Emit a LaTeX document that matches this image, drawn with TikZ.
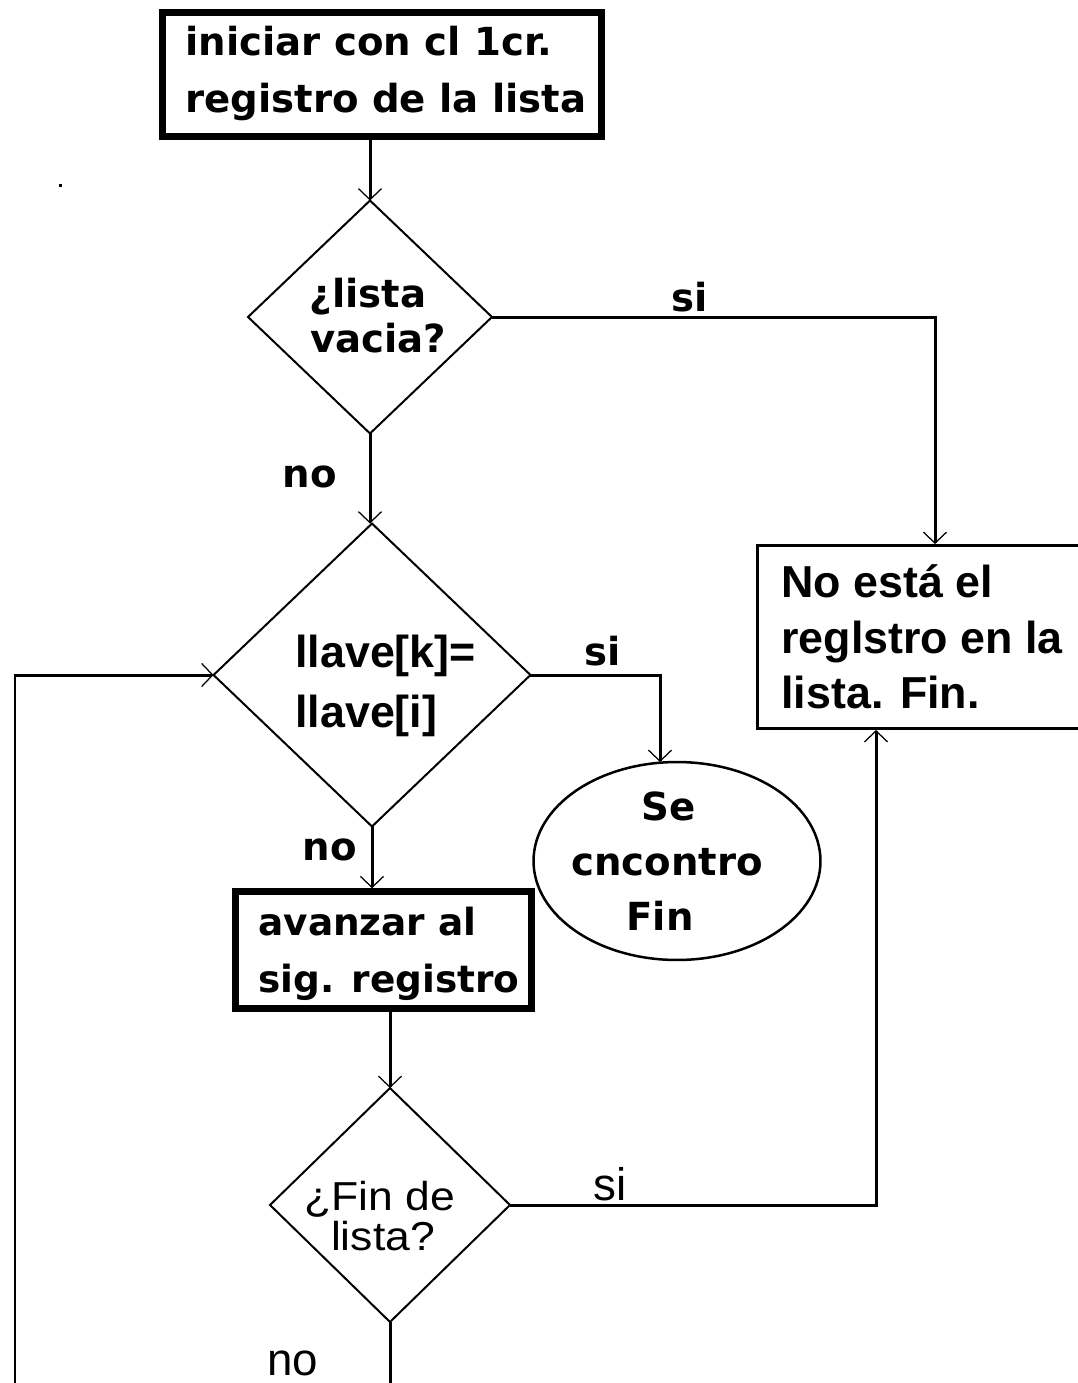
\documentclass[tikz,border=0pt]{standalone}
\usepackage{fontspec}
\usetikzlibrary{shapes.geometric,arrows.meta}
\newfontfamily\dvfont{DejaVu Sans}
\newfontfamily\lbfont{Liberation Sans}
\newfontfamily\lbwide{Liberation Sans}[FakeStretch=1.1]
\tikzset{
  pxbold/.style={font=\dvfont\bfseries\fontsize{22pt}{26pt}\selectfont, inner sep=0pt},
  pxboldsm/.style={font=\dvfont\bfseries\fontsize{21.3pt}{26pt}\selectfont, inner sep=0pt},
  tallbold/.style={font=\lbfont\bfseries\fontsize{25.5pt}{30pt}\selectfont, inner sep=0pt},
  tallreg/.style={font=\lbfont\fontsize{26pt}{30pt}\selectfont, inner sep=0pt},
  condreg/.style={font=\lbwide\fontsize{23pt}{26pt}\selectfont, inner sep=0pt},
  decision/.style={shape=diamond, draw, line width=0.04cm, inner sep=0pt, outer sep=0pt},
  thickbox/.style={rectangle, draw, line width=0.13cm, inner sep=0pt},
  thinbox/.style={rectangle, draw, line width=0.06cm, inner sep=0pt},
  endoval/.style={ellipse, draw, line width=0.05cm, inner sep=0pt, outer sep=0pt},
  conn/.style={line width=0.06cm},
  arr/.style={conn, -{Straight Barb[length=0.22cm,width=0.46cm,line width=0.025cm]}},
}
\begin{document}
\begin{tikzpicture}[x=0.02cm, y=-0.02cm]
\useasboundingbox (0,0) rectangle (1078,1383);

% shapes
\node[thickbox, minimum width=8.78cm, minimum height=2.48cm] (start) at (382,74.5) {};
\node[decision, minimum width=4.88cm, minimum height=4.66cm] (d1) at (370,317) {};
\node[decision, minimum width=6.34cm, minimum height=6.06cm] (d2) at (372,675) {};
\node[endoval, minimum width=5.74cm, minimum height=3.96cm] (ell) at (677,861) {};
\node[thickbox, minimum width=5.92cm, minimum height=2.34cm] (avz) at (383.5,950) {};
\node[decision, minimum width=4.80cm, minimum height=4.68cm] (d3) at (390,1205) {};
\node[thinbox, minimum width=6.85cm, minimum height=3.66cm] (nob) at (928.75,637) {};

% texts
\node[pxbold, anchor=base west] (t1a) at (185,55) {iniciar con cl 1cr.};
\node[pxbold, anchor=base west] (t1b) at (185,112) {registro de la lista};
\node[pxbold, anchor=base] (t2a) at (368,307) {¿lista};
\node[pxbold, anchor=base] (t2b) at (378,352) {vacia?};
\node[tallbold, anchor=base west] (t3a) at (295,667) {llave[k]=};
\node[tallbold, anchor=base west] (t3b) at (295,727) {llave[i]};
\node[pxbold, anchor=base] (t4a) at (669,820) {Se};
\node[pxbold, anchor=base] (t4b) at (667,875) {cncontro};
\node[pxbold, anchor=base] (t4c) at (660,930) {Fin};
\node[pxboldsm, anchor=base west] (t5a) at (258,935) {avanzar al};
\node[pxboldsm, anchor=base west] (t5b) at (258,992) {sig. registro};
\node[condreg, anchor=base] (t6a) at (380,1210) {¿Fin de};
\node[condreg, anchor=base] (t6b) at (383,1250) {lista?};
\node[tallbold, anchor=base west] (t7a) at (781,597) {No está el};
\node[tallbold, anchor=base west] (t7b) at (781,653) {reglstro en la};
\node[tallbold, anchor=base west] (t7c) at (781,708) {lista. Fin.};

% branch labels
\node[pxbold, anchor=base] (lsi1) at (690,311) {si};
\node[pxbold, anchor=base] (lno1) at (310,487) {no};
\node[pxbold, anchor=base] (lsi2) at (603,665) {si};
\node[pxbold, anchor=base] (lno2) at (330,860) {no};
\node[tallreg, anchor=base] (lsi3) at (610,1200) {si};
\node[tallreg, anchor=base] (lno3) at (293,1375) {no};

% helper coordinates
\coordinate (xyes1) at (935,0);
\coordinate (xyes2) at (660,0);
\coordinate (xyes3) at (876,0);
\coordinate (loopend) at (15,1400);
\coordinate (d3end) at (390,1400);

% connectors
\draw[arr] (start.south -| d1.north) -- (d1.north);
\draw[arr] (d1.south) -- (d1.south |- d2.north);
\draw[arr] (d1.east) -| (nob.north -| xyes1);
\draw[arr] (d2.east) -| (ell.north -| xyes2);
\draw[arr] (d2.south) -- (d2.south |- avz.north);
\draw[arr] (d3.north |- avz.south) -- (d3.north);
\draw[arr] (d3.east) -| (nob.south -| xyes3);
\draw[conn] (d3.south) -- (d3end);
\draw[arr] (loopend) |- (d2.west);

% stray speck
\fill (59,184) rectangle (62,187);
\end{tikzpicture}
\end{document}
